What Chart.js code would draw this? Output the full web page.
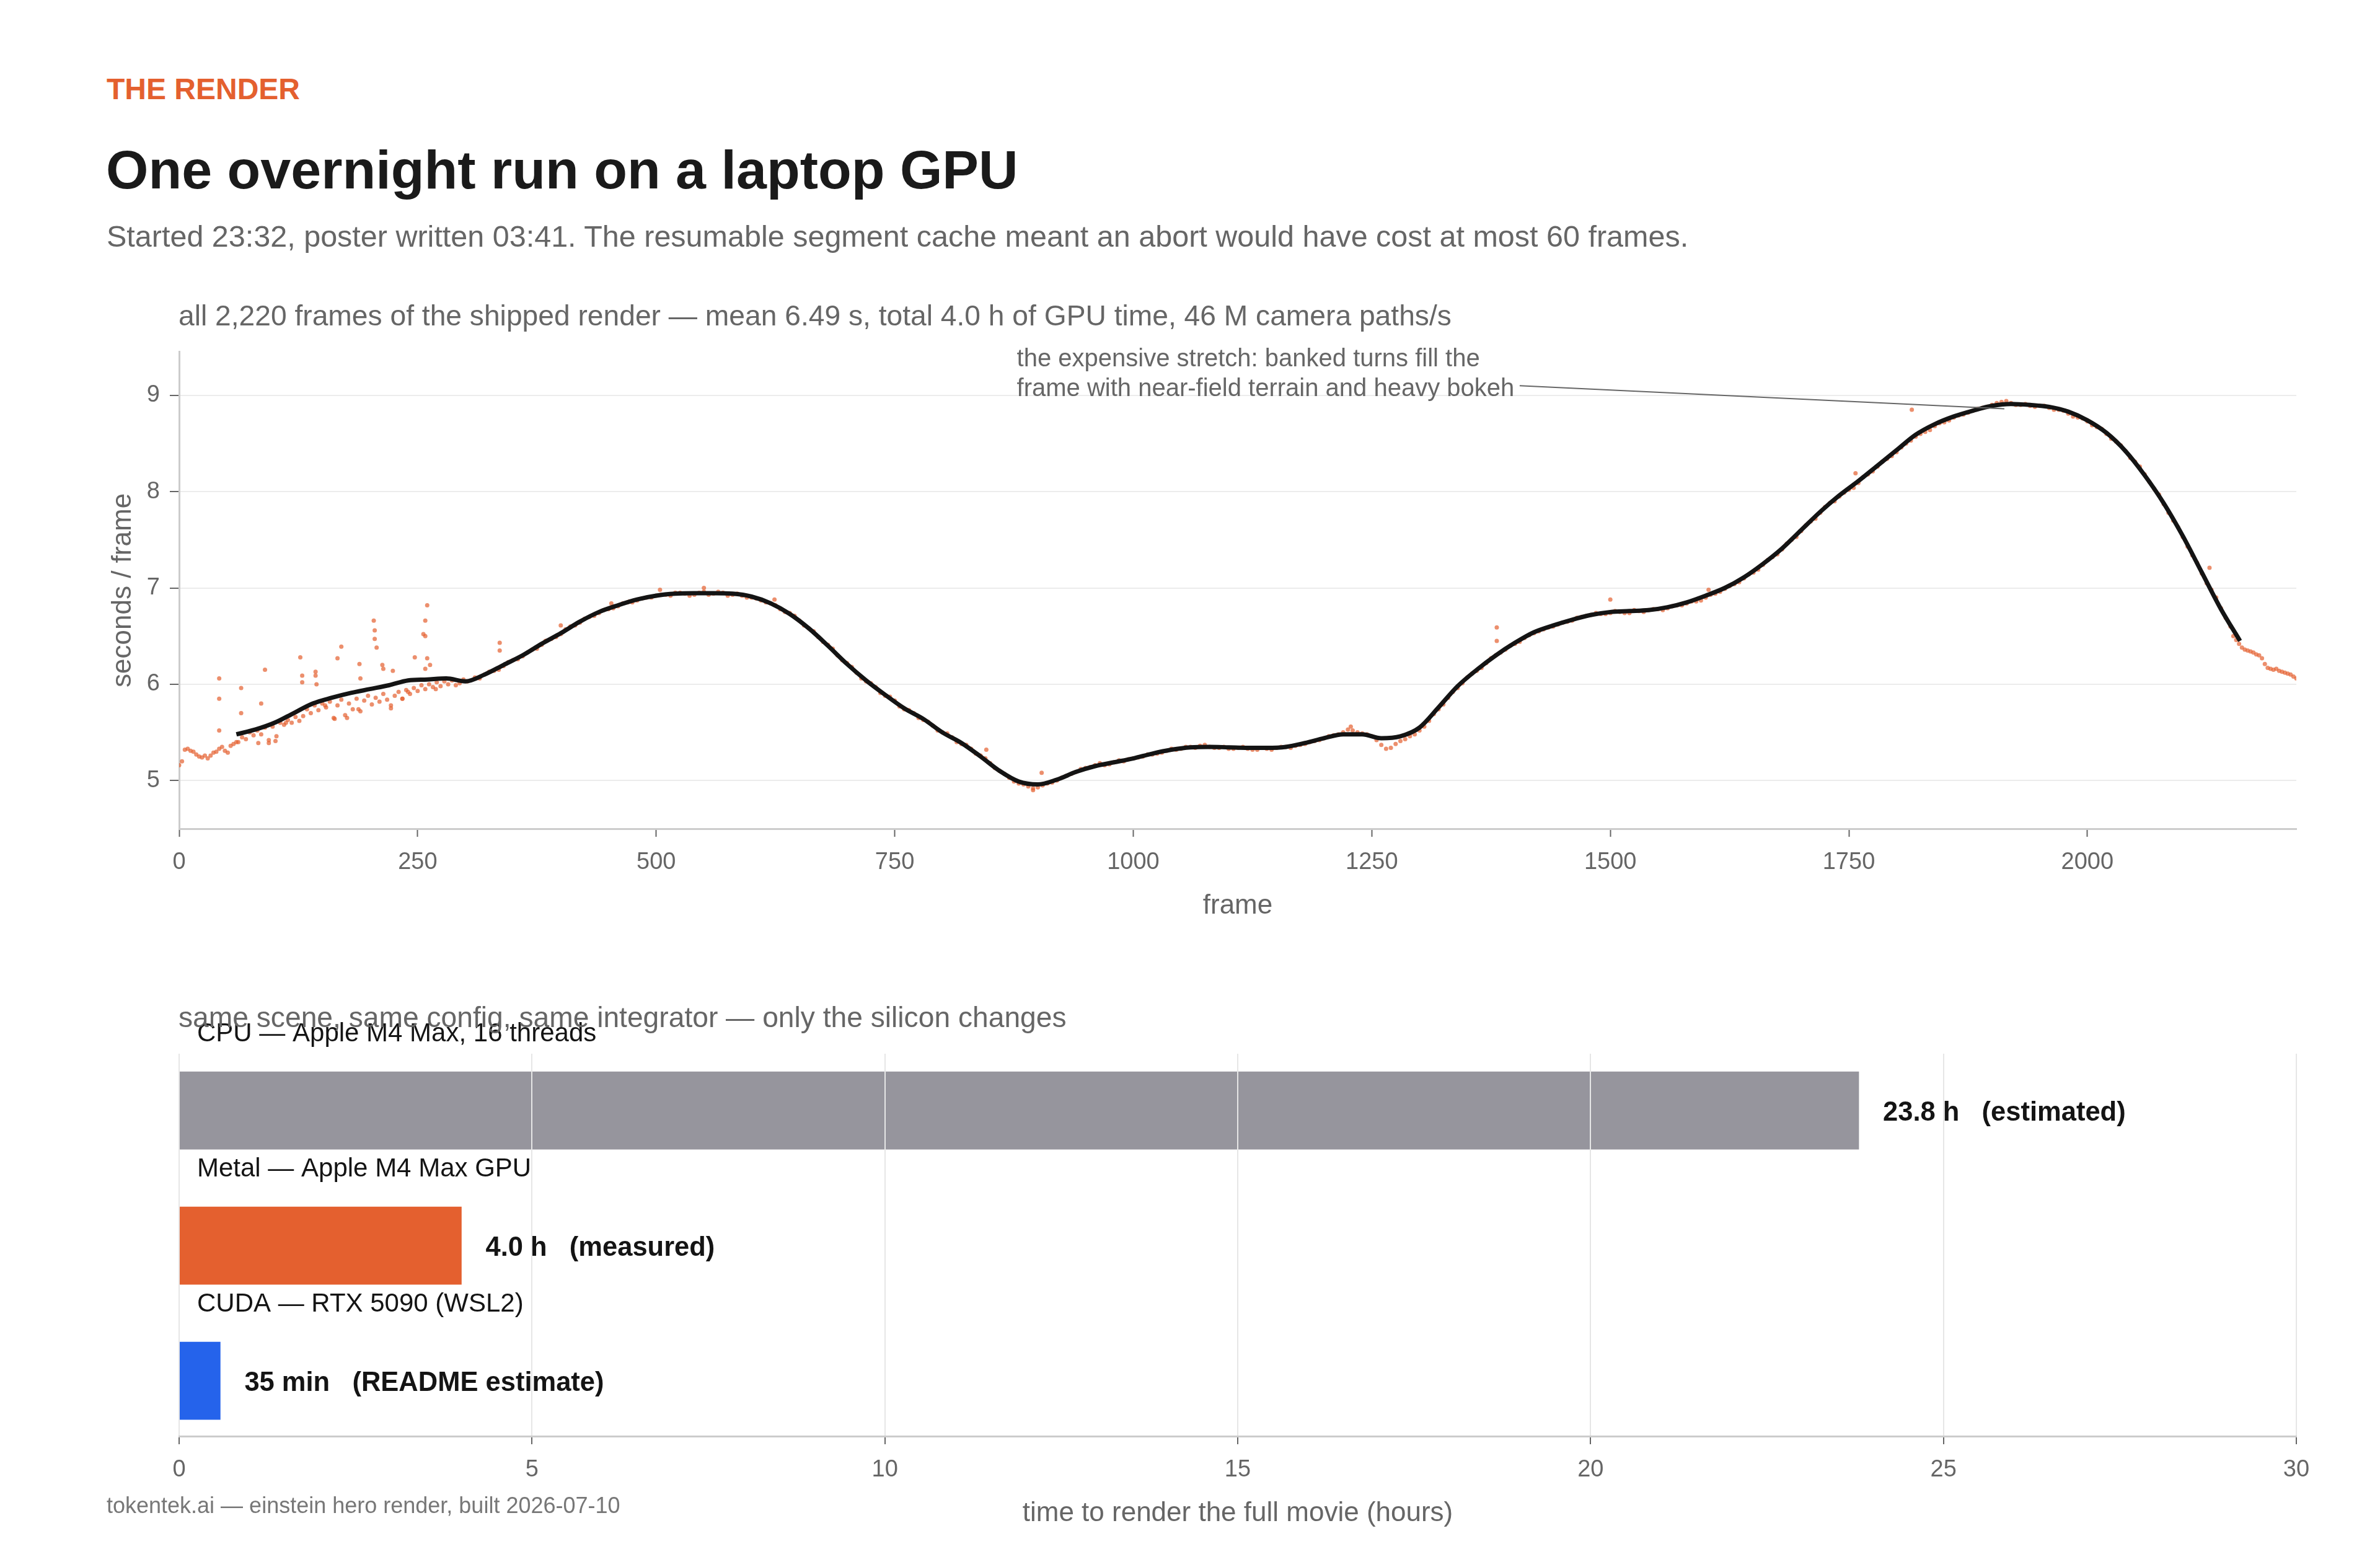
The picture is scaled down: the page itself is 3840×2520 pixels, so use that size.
<!DOCTYPE html>
<html>
<head>
<meta charset="utf-8">
<script src="https://cdn.jsdelivr.net/npm/chart.js@4.4.1/dist/chart.umd.min.js"></script>
<style>
  html, body { margin: 0; padding: 0; background: #ffffff; }
  body { width: 3840px; height: 2520px; position: relative; overflow: hidden;
         font-family: "Liberation Sans", Arial, Helvetica, sans-serif; }
  .t { position: absolute; white-space: pre; line-height: 1; }
  canvas { position: absolute; left: 0; }
</style>
</head>
<body>
<canvas id="c1" width="3840" height="971" style="top:529px;width:3840px;height:971px;"></canvas>
<canvas id="c2" width="3840" height="920" style="top:1600px;width:3840px;height:920px;"></canvas>

<div class="t" style="left:172px;top:120px;font-size:48px;font-weight:700;color:#E4602F;">THE RENDER</div>
<div class="t" style="left:171px;top:230px;font-size:88px;font-weight:700;color:#1a1a1a;">One overnight run on a laptop GPU</div>
<div class="t" style="left:172px;top:357px;font-size:48.5px;color:#666666;">Started 23:32, poster written 03:41. The resumable segment cache meant an abort would have cost at most 60 frames.</div>
<div class="t" style="left:288px;top:486px;font-size:46.2px;color:#666666;">all 2,220 frames of the shipped render — mean 6.49 s, total 4.0 h of GPU time, 46 M camera paths/s</div>
<div class="t" style="left:288px;top:1618px;font-size:46.2px;color:#666666;">same scene, same config, same integrator — only the silicon changes</div>
<div class="t" style="left:172px;top:2411px;font-size:36px;color:#777777;">tokentek.ai — einstein hero render, built 2026-07-10</div>

<script>
// ---------------- DATA: per-frame render time (seconds / frame) ----------------
// frames 0..60, every 3rd frame
const earlyStart = 0, earlyStep = 3;
const earlySec = [5.16,5.20,5.32,5.33,5.31,5.30,5.27,5.25,5.24,5.26,5.23,5.26,5.29,5.30,5.33,5.35,5.31,5.29,5.36,5.38,5.40];

// frames 62..302, every 4th frame (noisy warm-up band)
const bandStart = 62, bandStep = 4;
const bandSec = [5.40,5.45,5.43,5.50,5.47,5.52,5.48,5.55,5.42,5.56,5.46,5.60,5.58,5.63,5.60,5.66,5.62,5.67,5.74,5.70,
                 5.78,5.73,5.80,5.76,5.82,5.65,5.78,5.84,5.68,5.80,5.74,5.85,5.72,5.83,5.88,5.79,5.86,5.82,5.90,5.84,
                 5.78,5.88,5.92,5.85,5.94,5.90,5.96,5.93,5.99,5.95,6.00,5.97,6.02,5.98,6.03,6.00,6.04,5.99,6.01,6.05,6.03];

// frames 310..2140, every 10th frame
const mainStart = 310, mainStep = 10;
const mainSec = [6.07,6.10,6.14,6.19,6.25,6.29,6.36,6.41,6.47,6.52,6.60,6.64,6.70,6.74,6.78,6.81,6.85,6.87,6.90,6.92,
                 6.93,6.95,6.94,6.93,6.96,6.94,6.95,6.93,6.92,6.90,6.87,6.84,6.78,6.74,6.66,6.58,6.49,6.41,6.30,6.22,
                 6.12,6.03,5.97,5.88,5.83,5.74,5.70,5.63,5.57,5.50,5.45,5.38,5.33,5.26,5.18,5.10,5.03,4.97,4.94,4.93,
                 4.97,5.00,5.05,5.09,5.13,5.16,5.16,5.19,5.20,5.23,5.25,5.27,5.29,5.33,5.33,5.35,5.36,5.35,5.34,5.33,
                 5.34,5.33,5.32,5.33,5.34,5.35,5.36,5.38,5.41,5.44,5.47,5.50,5.52,5.49,5.46,5.37,5.34,5.41,5.46,5.52,
                 5.62,5.74,5.86,5.96,6.07,6.14,6.22,6.30,6.36,6.42,6.48,6.53,6.57,6.60,6.64,6.66,6.70,6.72,6.73,6.74,
                 6.75,6.74,6.76,6.77,6.78,6.79,6.82,6.84,6.86,6.90,6.94,6.99,7.04,7.10,7.16,7.24,7.32,7.40,7.50,7.59,
                 7.69,7.78,7.88,7.95,8.02,8.09,8.18,8.26,8.34,8.41,8.50,8.57,8.62,8.68,8.72,8.77,8.80,8.84,8.87,8.90,
                 8.93,8.92,8.90,8.89,8.89,8.87,8.85,8.81,8.77,8.73,8.67,8.60,8.52,8.42,8.31,8.18,8.03,7.87,7.70,7.53,
                 7.34,7.15,6.98,6.79];

// frames 315..2145, every 10th frame (the in-between frames of the same band)
const midStart = 315, midStep = 10;
const midSec = [6.06,6.13,6.15,6.23,6.26,6.33,6.37,6.45,6.49,
                6.57,6.61,6.68,6.71,6.77,6.79,6.84,6.85,6.89,6.90,
                6.93,6.92,6.95,6.92,6.95,6.93,6.96,6.92,6.94,6.90,
                6.89,6.85,6.82,6.75,6.71,6.61,6.55,6.44,6.37,6.25,
                6.18,6.06,6.01,5.91,5.87,5.77,5.73,5.65,5.61,5.52,
                5.49,5.40,5.37,5.28,5.23,5.13,5.07,4.99,4.96,4.92,
                4.95,4.98,5.03,5.07,5.12,5.14,5.18,5.17,5.21,5.22,
                5.24,5.27,5.28,5.31,5.32,5.35,5.34,5.37,5.34,5.35,
                5.33,5.35,5.32,5.34,5.32,5.35,5.34,5.37,5.40,5.42,
                5.46,5.48,5.53,5.50,5.48,5.42,5.33,5.38,5.43,5.48,
                5.56,5.69,5.79,5.92,6.01,6.11,6.17,6.27,6.33,6.40,
                6.44,6.51,6.55,6.59,6.62,6.65,6.69,6.71,6.74,6.73,
                6.76,6.74,6.77,6.75,6.78,6.77,6.81,6.82,6.86,6.87,
                6.93,6.96,7.02,7.06,7.14,7.19,7.29,7.35,7.46,7.53,
                7.65,7.72,7.84,7.90,7.99,8.04,8.15,8.21,8.31,8.37,
                8.46,8.53,8.60,8.64,8.71,8.74,8.79,8.82,8.86,8.88,
                8.92,8.94,8.90,8.91,8.88,8.89,8.85,8.84,8.78,8.76,
                8.69,8.65,8.55,8.48,8.35,8.26,8.10,7.97,7.78,7.63,
                7.43,7.26,7.05,6.90,6.69];

// frames 2150..2219, every 3rd frame
const tailStart = 2150, tailStep = 3;
const tailSec = [6.60,6.50,6.46,6.42,6.38,6.36,6.35,6.34,6.33,6.31,6.30,6.27,6.21,6.17,6.16,6.15,6.16,6.14,6.13,6.12,6.11,6.10,6.08,6.06];

// isolated slow / fast frames
const outFrame = [42,42,42,65,65,86,90,127,129,129,143,143,144,166,170,189,190,204,205,205,207,213,214,224,247,256,258,258,260,260,258,263,
                  83,94,101,112,153,163,176,188,222,234,240,269,
                  336,336,384,400,453,472,504,550,624,846,904,895,1228,1381,1381,1500,1603,1757,1816,2128];
const outSec   = [6.06,5.85,5.52,5.96,5.70,5.80,6.15,6.28,6.09,6.02,6.13,6.09,6.00,6.27,6.39,6.21,6.06,6.66,6.56,6.47,6.38,6.20,6.16,6.14,6.28,6.52,6.50,6.66,6.82,6.27,6.16,6.20,
                  5.39,5.39,5.41,5.60,5.78,5.64,5.65,5.74,5.75,5.85,5.92,5.95,
                  6.43,6.35,6.45,6.61,6.84,6.86,6.98,7.00,6.88,5.32,5.08,4.90,5.56,6.59,6.45,6.88,6.98,8.19,8.85,7.21];

// 120-frame centred rolling mean, frames 60..2160 every 20th frame
const meanStart = 60, meanStep = 20;
const meanSec = [5.48,5.53,5.60,5.70,5.80,5.86,5.91,5.95,5.99,6.04,6.05,6.06,6.03,6.10,6.20,6.30,6.42,6.53,6.65,6.75,
                 6.82,6.88,6.92,6.94,6.945,6.945,6.94,6.91,6.84,6.73,6.58,6.40,6.21,6.04,5.89,5.75,5.64,5.50,5.39,5.25,
                 5.10,4.99,4.96,5.01,5.09,5.15,5.19,5.23,5.28,5.32,5.345,5.35,5.345,5.34,5.34,5.35,5.39,5.44,5.48,5.48,
                 5.44,5.46,5.55,5.76,5.98,6.15,6.30,6.43,6.54,6.61,6.67,6.72,6.75,6.76,6.77,6.80,6.85,6.92,7.00,7.11,
                 7.25,7.41,7.60,7.79,7.96,8.11,8.27,8.43,8.59,8.70,8.78,8.84,8.89,8.91,8.90,8.88,8.83,8.74,8.61,8.42,
                 8.17,7.88,7.54,7.16,6.78,6.45];

const frameTicks = [0,250,500,750,1000,1250,1500,1750,2000];
const secTicks = [5,6,7,8,9];

const annotLines = ['the expensive stretch: banked turns fill the', 'frame with near-field terrain and heavy bokeh'];
const annotAnchor = { textFrame: 878, textSec: 9.30, fromFrame: 1405, fromSec: 9.10, toFrame: 1913, toSec: 8.86 };

// ---------------- DATA: full-movie render time by backend ----------------
const backends = ['CPU — Apple M4 Max, 16 threads', 'Metal — Apple M4 Max GPU', 'CUDA — RTX 5090 (WSL2)'];
const hours = [23.8, 4.0, 0.583];
const valueLabels = ['23.8 h   (estimated)', '4.0 h   (measured)', '35 min   (README estimate)'];
const barColors = ['#96959D', '#E4602F', '#2563EB'];
const hourTicks = [0,5,10,15,20,25,30];

// ---------------- build ----------------
const FONT = '"Liberation Sans", Arial, Helvetica, sans-serif';
Chart.defaults.font.family = FONT;
Chart.defaults.color = '#666666';

function seriesPts(start, step, vals) { return vals.map((v, i) => ({ x: start + i * step, y: v })); }
const dotPts = [].concat(
  seriesPts(earlyStart, earlyStep, earlySec),
  seriesPts(bandStart, bandStep, bandSec),
  seriesPts(mainStart, mainStep, mainSec),
  seriesPts(midStart, midStep, midSec),
  seriesPts(tailStart, tailStep, tailSec),
  outFrame.map((f, i) => ({ x: f, y: outSec[i] }))
);
const meanPts = seriesPts(meanStart, meanStep, meanSec);

const annotationPlugin = {
  id: 'annot',
  afterDraw(chart) {
    const { ctx, scales: { x, y } } = chart;
    ctx.save();
    ctx.strokeStyle = '#666666';
    ctx.lineWidth = 2;
    ctx.beginPath();
    ctx.moveTo(x.getPixelForValue(annotAnchor.fromFrame), y.getPixelForValue(annotAnchor.fromSec));
    ctx.lineTo(x.getPixelForValue(annotAnchor.toFrame), y.getPixelForValue(annotAnchor.toSec));
    ctx.stroke();
    ctx.fillStyle = '#666666';
    ctx.font = '40px ' + FONT;
    ctx.textAlign = 'left';
    ctx.textBaseline = 'alphabetic';
    const tx = x.getPixelForValue(annotAnchor.textFrame);
    const ty = y.getPixelForValue(annotAnchor.textSec);
    annotLines.forEach((l, i) => ctx.fillText(l, tx, ty + i * 48));
    ctx.restore();
  }
};

new Chart(document.getElementById('c1'), {
  type: 'scatter',
  data: {
    datasets: [
      { type: 'line', label: 'rolling mean', data: meanPts, borderColor: '#141414', borderWidth: 7,
        pointRadius: 0, cubicInterpolationMode: 'monotone', fill: false, order: 0 },
      { type: 'scatter', label: 'frame time', data: dotPts, backgroundColor: 'rgba(228,96,47,0.7)',
        borderWidth: 0, pointRadius: 3.5, order: 1 }
    ]
  },
  options: {
    responsive: false, animation: false, devicePixelRatio: 1,
    layout: { padding: { left: 0, right: 135, top: 0, bottom: 0 } },
    plugins: { legend: { display: false }, tooltip: { enabled: false } },
    scales: {
      x: {
        type: 'linear', min: 0, max: 2219,
        afterBuildTicks: s => { s.ticks = frameTicks.map(v => ({ value: v })); },
        afterFit: s => { s.height = 163; },
        ticks: { font: { size: 38 }, color: '#666666', padding: 19, maxRotation: 0, autoSkip: false,
                 callback: v => String(v) },
        grid: { drawOnChartArea: false, drawTicks: true, tickLength: 13, tickColor: '#666666', tickWidth: 2 },
        border: { color: '#cccccc', width: 3 },
        title: { display: true, text: 'frame', font: { size: 44 }, color: '#666666', padding: { top: 0, bottom: 12 } }
      },
      y: {
        type: 'linear', min: 4.5, max: 9.45,
        afterBuildTicks: s => { s.ticks = secTicks.map(v => ({ value: v })); },
        afterFit: s => { s.width = 289; },
        ticks: { font: { size: 38 }, color: '#666666', padding: 16, callback: v => String(v) },
        grid: { color: '#ececec', lineWidth: 2, tickLength: 15, tickColor: '#666666', tickWidth: 2 },
        border: { color: '#cccccc', width: 3 },
        title: { display: true, text: 'seconds / frame', font: { size: 44 }, color: '#666666', padding: { top: 172, bottom: 0 } }
      }
    }
  },
  plugins: [annotationPlugin]
});

const barLabelPlugin = {
  id: 'barLabels',
  afterDraw(chart) {
    const { ctx, chartArea } = chart;
    const meta = chart.getDatasetMeta(0);
    ctx.save();
    ctx.textAlign = 'left';
    ctx.textBaseline = 'middle';
    ctx.fillStyle = '#141414';
    meta.data.forEach((bar, i) => {
      ctx.font = '700 43.5px ' + FONT;
      ctx.fillText(valueLabels[i], bar.x + 39, bar.y + 4);
      ctx.font = '400 42px ' + FONT;
      ctx.fillText(backends[i], chartArea.left + 29, bar.y - 123);
    });
    ctx.restore();
  }
};

new Chart(document.getElementById('c2'), {
  type: 'bar',
  data: {
    datasets: [{
      label: 'hours',
      data: hours.map((h, i) => ({ x: h, y: i })),
      backgroundColor: barColors,
      borderWidth: 0,
      barThickness: 125
    }]
  },
  options: {
    indexAxis: 'y',
    responsive: false, animation: false, devicePixelRatio: 1,
    layout: { padding: { left: 289, right: 135, top: 100, bottom: 0 } },
    plugins: { legend: { display: false }, tooltip: { enabled: false } },
    scales: {
      x: {
        type: 'linear', min: 0, max: 30,
        afterBuildTicks: s => { s.ticks = hourTicks.map(v => ({ value: v })); },
        afterFit: s => { s.height = 203; },
        ticks: { font: { size: 38 }, color: '#666666', padding: 19, maxRotation: 0, autoSkip: false },
        grid: { color: '#e6e6e6', lineWidth: 2, z: 1, tickLength: 13, tickColor: '#666666', tickWidth: 2 },
        border: { color: '#cccccc', width: 3, z: 2 },
        title: { display: true, text: 'time to render the full movie (hours)', font: { size: 44 }, color: '#666666', padding: { top: 0, bottom: 52 } }
      },
      y: { type: 'linear', min: -0.42, max: 2.41, reverse: true, offset: false, display: false }
    }
  },
  plugins: [barLabelPlugin]
});
</script>
</body>
</html>
